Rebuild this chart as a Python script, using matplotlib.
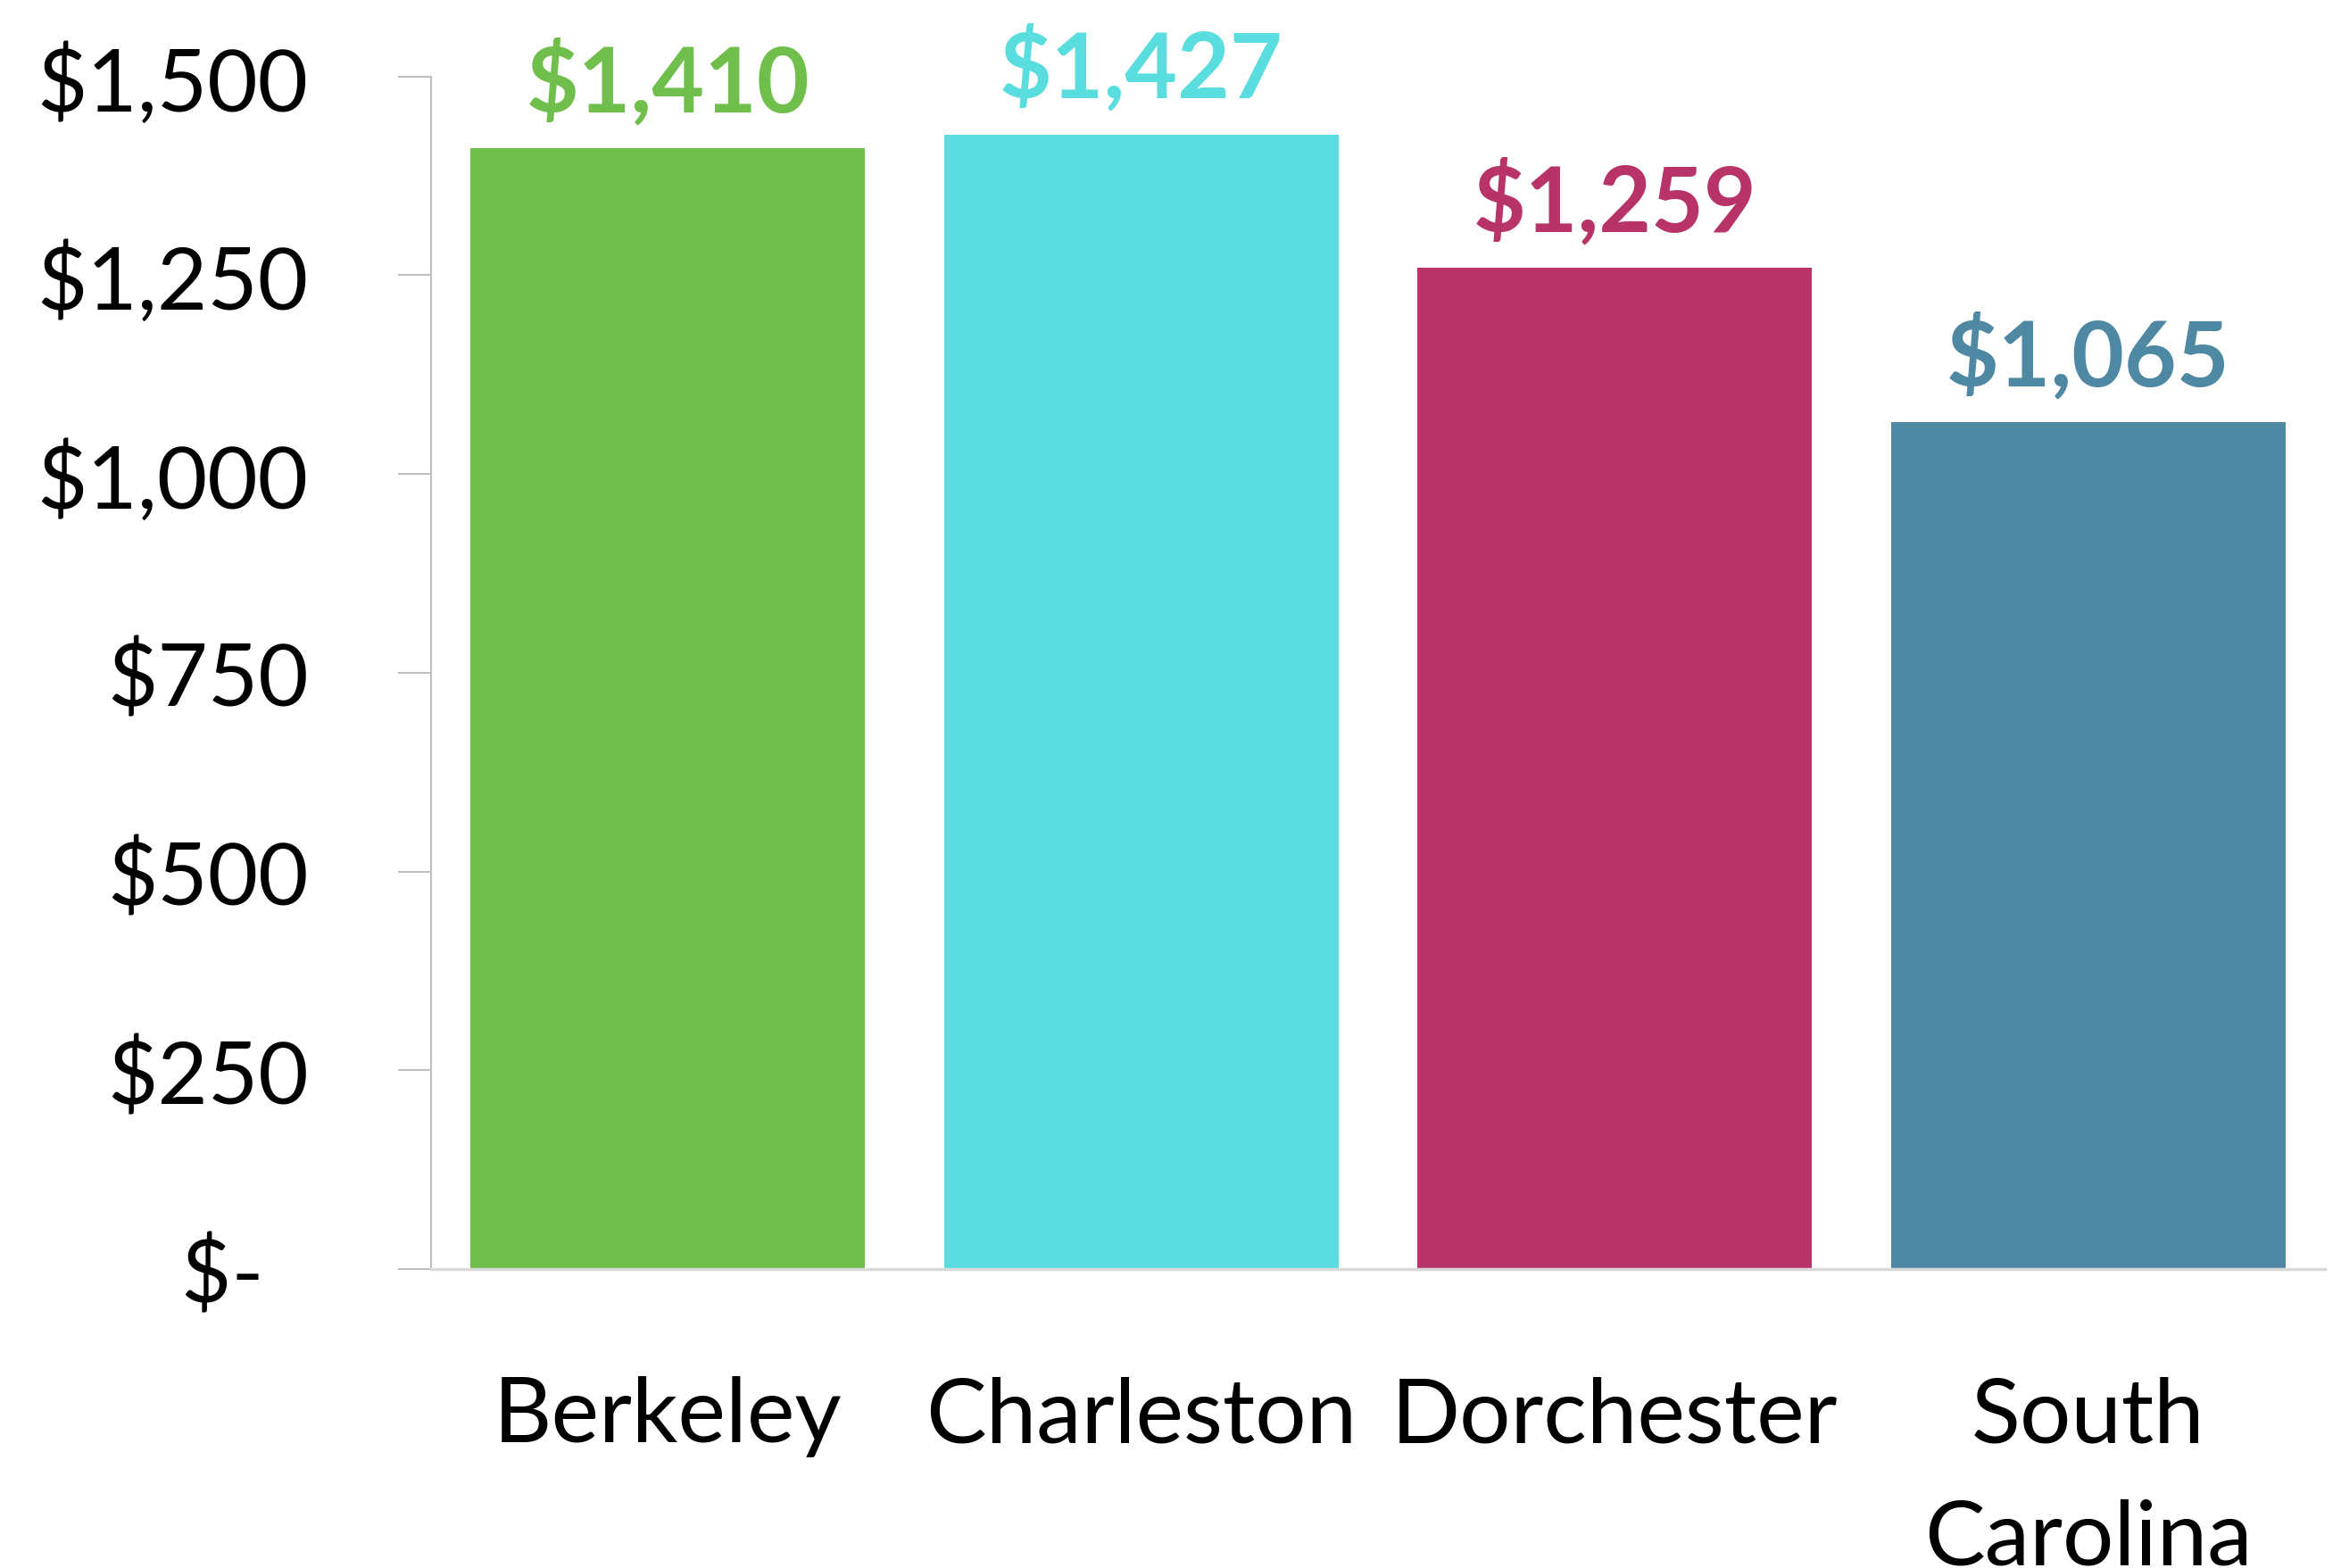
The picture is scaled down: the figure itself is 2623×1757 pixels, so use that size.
import matplotlib
matplotlib.use("Agg")
import matplotlib.pyplot as plt

categories = ["Berkeley", "Charleston", "Dorchester", "South\nCarolina"]
values = [1410, 1427, 1259, 1065]
value_labels = ["$1,410", "$1,427", "$1,259", "$1,065"]
colors = ["#70BF4C", "#5ADDDF", "#B83368", "#4F88A3"]
yticks = [0, 250, 500, 750, 1000, 1250, 1500]
ytick_labels = ["$-  ", "$250", "$500", "$750", "$1,000", "$1,250", "$1,500"]

plt.rcParams['font.family'] = ['Lato', 'DejaVu Sans']

W, H = 2623, 1758
fig = plt.figure(figsize=(W / 100, H / 100), dpi=100)
left, right, top, bottom = 483, 2605, 86.5, 1423
ax = fig.add_axes([left / W, 1 - bottom / H, (right - left) / W, (bottom - top) / H])

x = list(range(len(categories)))
ax.bar(x, values, width=0.834, color=colors, zorder=2)
for xi, v, lab, c in zip(x, values, value_labels, colors):
    ax.annotate(lab, (xi, v), xytext=(0, 30), textcoords="offset points",
                ha="center", va="baseline", fontsize=73, fontweight="bold", color=c)

ax.set_xlim(-0.5, 3.5)
ax.set_ylim(0, 1500)
ax.set_yticks(yticks)
ax.set_yticklabels(ytick_labels, fontsize=70)
ax.set_xticks(x)
ax.set_xticklabels(categories, fontsize=73, linespacing=1.62, va="top")

for s in ["top", "right"]:
    ax.spines[s].set_visible(False)
ax.spines["left"].set_color("#BFBFBF")
ax.spines["left"].set_linewidth(1.5)
ax.spines["bottom"].set_color("#D9D9D9")
ax.spines["bottom"].set_linewidth(2.5)
ax.tick_params(axis="y", length=27, width=1.5, color="#BFBFBF", pad=72)
ax.tick_params(axis="x", length=0, pad=86)

fig.savefig("out.png", dpi=100, facecolor="white")
